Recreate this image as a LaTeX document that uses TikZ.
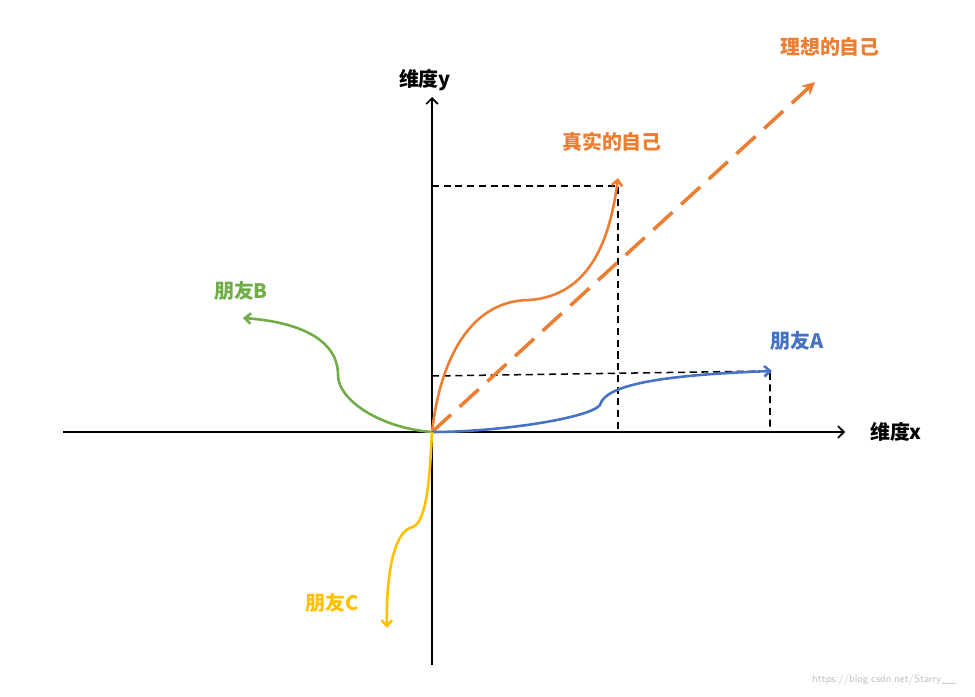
\documentclass[tikz,border=0pt]{standalone}
\usepackage{fontspec}
\usetikzlibrary{arrows.meta}
\newfontfamily\cjk{Noto Sans CJK SC}
\definecolor{ora}{HTML}{ED7D31}
\definecolor{blu}{HTML}{4472C4}
\definecolor{gre}{HTML}{70AD47}
\definecolor{yel}{HTML}{FFC000}
\begin{document}
\begin{tikzpicture}[x=0.03cm,y=-0.03cm,
 curve/.style={line width=2.2pt,-{Straight Barb[length=5pt,width=9pt]}},
 lab/.style={font=\cjk\bfseries\fontsize{17}{20}\selectfont},
 guide/.style={line width=1.3pt,dashed,dash pattern=on 6pt off 4pt}]
\useasboundingbox (0,0) rectangle (975,696);
\coordinate (O) at (432,432);
\draw[line width=1.4pt,-{Straight Barb[length=5pt,width=10pt]}] (63,432) -- (845,432) coordinate (xe);
\draw[line width=1.4pt,-{Straight Barb[length=5pt,width=10pt]}] (432,665) -- (432,97) coordinate (ye);
\node[lab,anchor=west] (xl) at (866,432) {维度\textit{x}};
\node[lab] (yl) at (425,80) {维度\textit{y}};
% guides
\coordinate (r1) at (432,186); \coordinate (r2) at (618,186); \coordinate (r3) at (618,432);
\draw[guide] (r1) -- (r2) -- (r3);
\coordinate (a1) at (432,376); \coordinate (a2) at (770,371); \coordinate (a3) at (770,432);
\draw[guide] (a1) -- (a2) -- (a3);
% ideal
\coordinate (ideal) at (815,82);
\draw[ora,line width=3pt,dash pattern=on 22pt off 10pt,-{Stealth[length=11pt,width=11pt]}] (O) -- (ideal);
\node[lab,text=ora] (il) at (830,47) {理想的自己};
% real
\draw[ora,curve] (O) .. controls (440,360) and (470,300) .. (530,300) .. controls (590,295) and (610,240) .. (618,178);
\node[lab,text=ora] (rl) at (612,142) {真实的自己};
% A
\draw[blu,curve] (O) .. controls (500,432) and (590,418) .. (600,405) .. controls (605,385) and (660,375) .. (772,371);
\node[lab,text=blu] (al) at (797,341) {朋友A};
% B
\draw[gre,curve] (O) .. controls (380,428) and (338,400) .. (338,375) .. controls (338,340) and (300,322) .. (243,318);
\node[lab,text=gre] (bl) at (241,291) {朋友B};
% C
\draw[yel,curve] (O) .. controls (430,470) and (428,520) .. (413,527) .. controls (395,530) and (386,570) .. (387,628);
\node[lab,text=yel] (cl) at (332,603) {朋友C};
\node[text=gray!50,font=\sffamily\fontsize{9}{10}\selectfont,anchor=east] (wm) at (960,680) {https://blog.csdn.net/Starry\_\_};
\end{tikzpicture}
\end{document}
